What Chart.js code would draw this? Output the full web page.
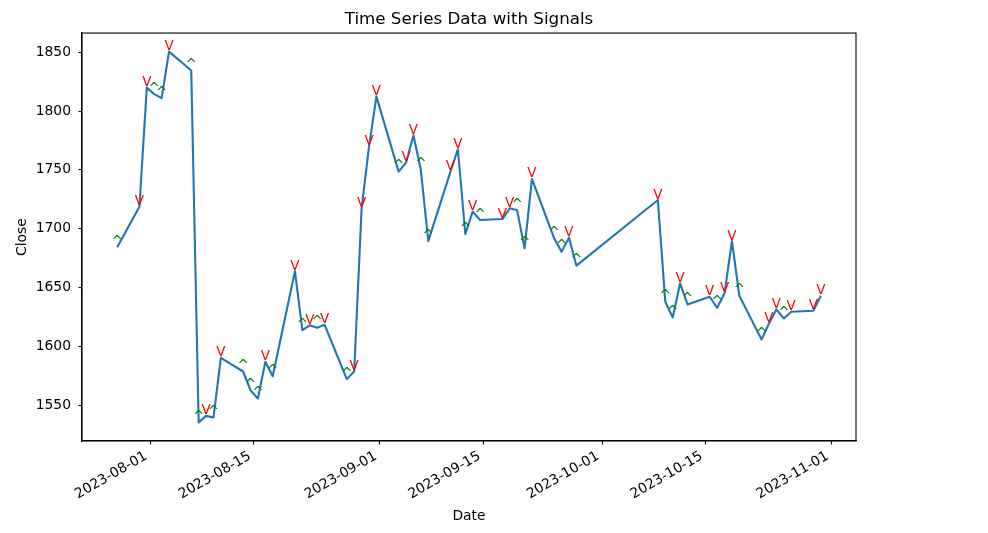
<!DOCTYPE html>
<html>
<head>
<meta charset="utf-8">
<title>Time Series Data with Signals</title>
<script src="https://cdn.jsdelivr.net/npm/chart.js@4.4.1/dist/chart.umd.min.js"></script>
<style>
  html, body { margin: 0; padding: 0; background: #fff; }
  canvas { display: block; }
</style>
</head>
<body>
<canvas id="chart" width="988" height="533"></canvas>
<script>
// trading days (Sun-Thu)
const dates = [
  '2023-07-27', '2023-07-30', '2023-07-31', '2023-08-01', '2023-08-02', '2023-08-03',
  '2023-08-06', '2023-08-07', '2023-08-08', '2023-08-09', '2023-08-10',
  '2023-08-13', '2023-08-14', '2023-08-15', '2023-08-16', '2023-08-17',
  '2023-08-20', '2023-08-21', '2023-08-22', '2023-08-23', '2023-08-24',
  '2023-08-27', '2023-08-28', '2023-08-29', '2023-08-30', '2023-08-31',
  '2023-09-03', '2023-09-04', '2023-09-05', '2023-09-06', '2023-09-07',
  '2023-09-10', '2023-09-11', '2023-09-12', '2023-09-13', '2023-09-14',
  '2023-09-17', '2023-09-18', '2023-09-19', '2023-09-20', '2023-09-21',
  '2023-09-24', '2023-09-25', '2023-09-26', '2023-09-27',
  '2023-10-08', '2023-10-09', '2023-10-10', '2023-10-11', '2023-10-12',
  '2023-10-15', '2023-10-16', '2023-10-17', '2023-10-18', '2023-10-19',
  '2023-10-22', '2023-10-23', '2023-10-24', '2023-10-25', '2023-10-26',
  '2023-10-29', '2023-10-30'
];
const closes = [
  1684.2, 1718.7, 1819.9, 1814.3, 1810.9, 1850.5,
  1834.4, 1535.4, 1541.0, 1539.6, 1590.3,
  1578.7, 1562.8, 1555.8, 1586.9, 1574.7,
  1663.8, 1613.9, 1617.9, 1615.9, 1618.4,
  1572.2, 1578.7, 1717.3, 1769.7, 1812.2,
  1748.5, 1756.1, 1779.4, 1749.9, 1689.5,
  1748.5, 1767.5, 1695.5, 1714.5, 1707.4,
  1708.2, 1717.3, 1715.6, 1683.3, 1742.3,
  1691.8, 1680.4, 1692.4, 1668.6,
  1724.4, 1637.9, 1624.6, 1653.5, 1635.7,
  1642.2, 1632.8, 1645.0, 1689.5, 1643.0,
  1605.9, 1619.5, 1631.4, 1623.8, 1629.4,
  1630.3, 1643.0
];
// 'V' = sell signal (red), '^' = buy signal (green)
const signals = [
  '^', 'V', 'V', '^', '^', 'V',
  '^', '^', 'V', '^', 'V',
  '^', '^', '^', 'V', '^',
  'V', '^', 'V', '^', 'V',
  '^', 'V', 'V', 'V', 'V',
  '^', 'V', 'V', '^', '^',
  'V', 'V', '^', 'V', '^',
  'V', 'V', '^', '^', 'V',
  '^', '^', 'V', '^',
  'V', '^', '^', 'V', '^',
  'V', '^', 'V', 'V', '^',
  '^', 'V', 'V', '^', 'V',
  'V', 'V'
];
const xTickLabels = ['2023-08-01', '2023-08-15', '2023-09-01', '2023-09-15', '2023-10-01', '2023-10-15', '2023-11-01'];
const yTickValues = [1550, 1600, 1650, 1700, 1750, 1800, 1850];

const sampleHour = 13; // closes are stamped in the afternoon
const toDay = (d) => Date.parse(d) / 86400000;

const points = dates.map((d, i) => ({ x: toDay(d) + sampleHour / 24, y: closes[i] }));

// matplotlib-like 5% margins
function padRange(vals) {
  const lo = Math.min(...vals), hi = Math.max(...vals);
  const m = (hi - lo) * 0.05;
  return [lo - m, hi + m];
}
const [xMin, xMax] = padRange(points.map(p => p.x));
const [yMin, yMax] = padRange(closes);

const FONT = 'DejaVu Sans';
Chart.defaults.font.family = FONT;
Chart.defaults.color = '#000';

const framePlugin = {
  id: 'frame',
  afterDatasetsDraw(chart) {
    const { ctx, chartArea: a } = chart;
    ctx.save();
    ctx.strokeStyle = '#000';
    ctx.lineWidth = 1.1;
    ctx.strokeRect(a.left, a.top, a.right - a.left, a.bottom - a.top);
    ctx.restore();
  }
};

const signalPlugin = {
  id: 'signals',
  afterDatasetsDraw(chart) {
    const { ctx, scales } = chart;
    ctx.save();
    ctx.font = '13.5px "' + FONT + '"';
    ctx.textAlign = 'center';
    ctx.textBaseline = 'alphabetic';
    points.forEach((p, i) => {
      const px = scales.x.getPixelForValue(p.x);
      const py = scales.y.getPixelForValue(p.y);
      ctx.fillStyle = signals[i] === 'V' ? '#ff0000' : '#008000';
      ctx.fillText(signals[i], px, py - 1.5);
    });
    ctx.restore();
  }
};

const ctx = document.getElementById('chart').getContext('2d');
new Chart(ctx, {
  type: 'line',
  data: {
    datasets: [{
      label: 'Close',
      data: points,
      borderColor: '#1f77b4',
      borderWidth: 2.1,
      borderJoinStyle: 'round',
      pointRadius: 0,
      tension: 0,
      fill: false
    }]
  },
  options: {
    responsive: false,
    animation: false,
    layout: { padding: { left: 0, right: 132, top: 0, bottom: 0 } },
    plugins: {
      legend: { display: false },
      tooltip: { enabled: false },
      title: {
        display: true,
        fullSize: false,
        text: 'Time Series Data with Signals',
        color: '#000',
        font: { family: FONT, size: 16.7, weight: 'normal', lineHeight: 1.2 },
        padding: { top: 10, bottom: 3 }
      }
    },
    scales: {
      x: {
        type: 'linear',
        min: xMin,
        max: xMax,
        afterBuildTicks: (s) => { s.ticks = xTickLabels.map(d => ({ value: toDay(d) })); },
        afterFit: (s) => { s.height = 92; },
        grid: { drawOnChartArea: false, tickLength: 3.5, tickColor: '#000', tickWidth: 1.1 },
        border: { display: true, color: '#000', width: 1.1 },
        ticks: {
          autoSkip: false,
          minRotation: 30,
          maxRotation: 30,
          padding: 3.5,
          labelOffset: -4,
          color: '#000',
          font: { family: FONT, size: 13.9 },
          callback: (v, i) => xTickLabels[i]
        },
        title: {
          display: true,
          text: 'Date',
          color: '#000',
          font: { family: FONT, size: 13.9 },
          padding: { top: 4, bottom: 8 }
        }
      },
      y: {
        min: yMin,
        max: yMax,
        afterBuildTicks: (s) => { s.ticks = yTickValues.map(v => ({ value: v })); },
        afterFit: (s) => { s.width = 82; },
        grid: { drawOnChartArea: false, tickLength: 3.5, tickColor: '#000', tickWidth: 1.1 },
        border: { display: true, color: '#000', width: 1.1 },
        ticks: {
          padding: 7.5,
          color: '#000',
          font: { family: FONT, size: 13.9 },
          callback: (v) => String(v)
        },
        title: {
          display: true,
          text: 'Close',
          color: '#000',
          font: { family: FONT, size: 13.9 },
          padding: { top: 14.5, bottom: 4 }
        }
      }
    }
  },
  plugins: [framePlugin, signalPlugin]
});
</script>
</body>
</html>
